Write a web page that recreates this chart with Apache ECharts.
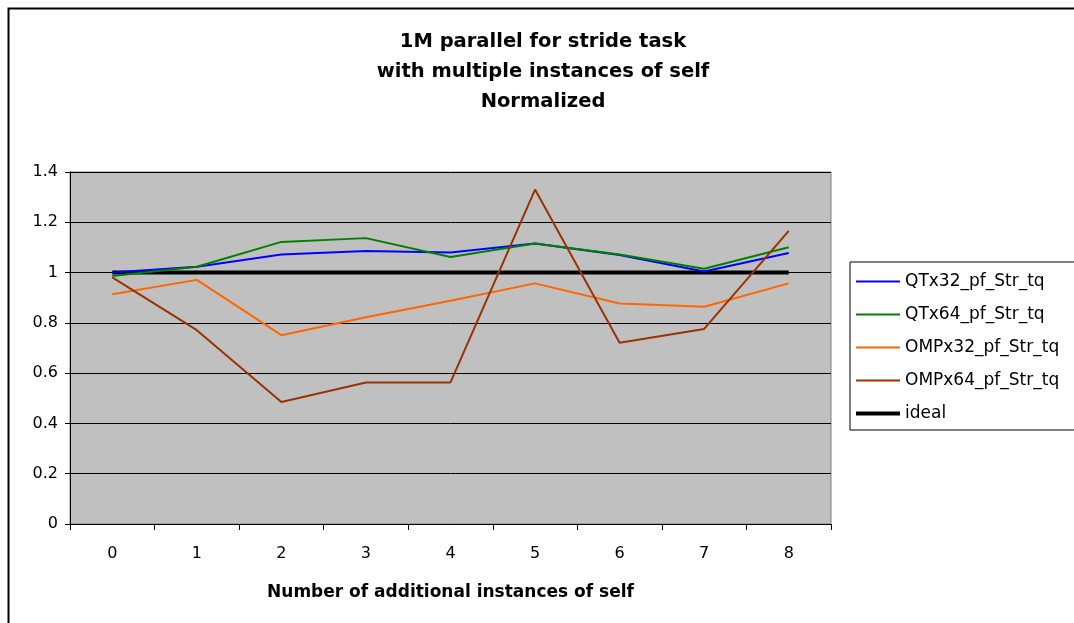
<!DOCTYPE html>
<html>
<head>
<meta charset="utf-8">
<script src="https://cdn.jsdelivr.net/npm/echarts@6/dist/echarts.min.js"></script>
<style>
html,body{margin:0;padding:0;background:#fff;}
#c{width:1074px;height:623px;}
</style>
</head>
<body>
<div id="c"></div>
<script>
const categories = ['0','1','2','3','4','5','6','7','8'];
const qt32 = [1.000, 1.023, 1.072, 1.086, 1.080, 1.116, 1.070, 1.004, 1.078];
const qt64 = [0.986, 1.023, 1.122, 1.137, 1.062, 1.116, 1.072, 1.015, 1.101];
const omp32 = [0.914, 0.971, 0.751, 0.822, 0.888, 0.957, 0.877, 0.864, 0.957];
const omp64 = [0.981, 0.771, 0.485, 0.563, 0.563, 1.330, 0.721, 0.776, 1.166];
const ideal = [1, 1, 1, 1, 1, 1, 1, 1, 1];
const seriesNames = ['QTx32_pf_Str_tq','QTx64_pf_Str_tq','OMPx32_pf_Str_tq','OMPx64_pf_Str_tq','ideal'];
const seriesData = [qt32, qt64, omp32, omp64, ideal];
const seriesColors = ['#0000FF','#008000','#FF6600','#993300','#000000'];
const seriesWidths = [2, 2, 2, 2, 4];
const yTicks = [0, 0.2, 0.4, 0.6, 0.8, 1, 1.2, 1.4];

const font = '"DejaVu Sans", Arial, sans-serif';
const chart = echarts.init(document.getElementById('c'), null, {renderer:'canvas'});
chart.setOption({
  animation: false,
  backgroundColor: '#fff',
  graphic: [{
    type: 'rect', left: 6, top: 6, z: 0,
    shape: {x: 0, y: 0, width: 1100, height: 700},
    style: {fill: 'none', stroke: '#000', lineWidth: 2}
  }],
  title: {
    text: '1M parallel for stride task\nwith multiple instances of self\nNormalized',
    left: 538, top: 22, textAlign: 'center',
    textStyle: {fontFamily: font, fontSize: 19.5, fontWeight: 'bold', color: '#000', lineHeight: 30}
  },
  legend: {
    orient: 'vertical',
    left: 850, top: 262,
    padding: [11, 40, 8, 6],
    itemGap: 16,
    itemWidth: 44, itemHeight: 16,
    backgroundColor: '#fff',
    borderColor: '#000', borderWidth: 1,
    textStyle: {fontFamily: font, fontSize: 17, color: '#000'},
    data: seriesNames.map((n, i) => ({
      name: n,
      icon: i === 4 ? 'path://M0,6 L44,6 L44,10 L0,10 Z' : 'path://M0,7 L44,7 L44,9 L0,9 Z'
    }))
  },
  grid: {
    left: 70, right: 243, top: 172, bottom: 99,
    show: true, backgroundColor: '#C0C0C0', borderColor: '#808080', borderWidth: 1
  },
  xAxis: {
    type: 'category', data: categories, boundaryGap: true,
    name: 'Number of additional instances of self',
    nameLocation: 'middle', nameGap: 60,
    nameTextStyle: {fontFamily: font, fontSize: 17, fontWeight: 'bold', color: '#000'},
    axisLine: {lineStyle: {color: '#000', width: 1}},
    axisTick: {show: true, length: 6, lineStyle: {color: '#000'}},
    axisLabel: {fontFamily: font, fontSize: 16, color: '#000', margin: 22},
    splitLine: {show: false}
  },
  yAxis: {
    type: 'value', min: 0, max: 1.4, interval: 0.2,
    axisLine: {show: true, lineStyle: {color: '#000', width: 1}},
    axisTick: {show: true, length: 5, lineStyle: {color: '#000'}},
    axisLabel: {fontFamily: font, fontSize: 16, color: '#000', margin: 12,
      formatter: v => { const t = yTicks.find(x => Math.abs(x - v) < 1e-9); return String(t !== undefined ? t : v); }},
    splitLine: {show: true, lineStyle: {color: '#000', width: 1}}
  },
  series: seriesNames.map((n, i) => ({
    name: n, type: 'line', data: seriesData[i],
    symbol: 'none', color: seriesColors[i],
    lineStyle: {color: seriesColors[i], width: seriesWidths[i]},
    z: i === 4 ? 3 : 4
  }))
});
</script>
</body>
</html>
